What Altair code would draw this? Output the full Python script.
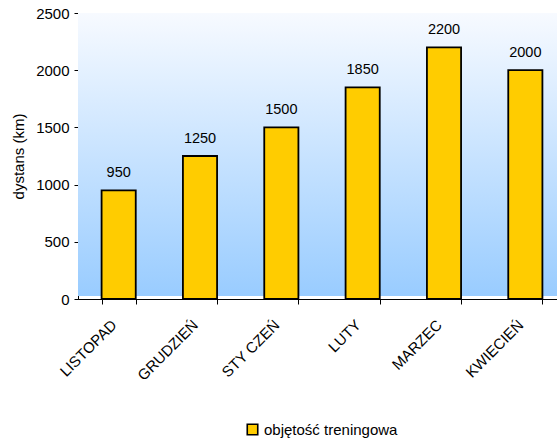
import altair as alt
import pandas as pd

months = ["LISTOPAD", "GRUDZIEŃ", "STY CZEŃ", "LUTY", "MARZEC", "KWIECIEŃ"]
values = [950, 1250, 1500, 1850, 2200, 2000]
series_name = "objętość treningowa"
y_ticks = [0, 500, 1000, 1500, 2000, 2500]

df = pd.DataFrame({"month": months, "value": values, "series": [series_name] * len(months)})

FONT = "Liberation Sans"
FS = 15
W = 479
H = 286

x_enc = alt.X(
    "month:N",
    sort=months,
    scale=alt.Scale(range=[0, 488], paddingInner=0.58, paddingOuter=0.29),
    axis=alt.Axis(
        title=None,
        labelAngle=-45,
        labelAlign="right",
        labelBaseline="middle",
        labelPadding=18,
        labelOffset=-5,
        labelFont=FONT,
        labelFontSize=FS,
        labelColor="black",
        tickBand="extent",
        tickSize=5,
        tickColor="black",
        domainColor="black",
        grid=False,
    ),
)
y_enc = alt.Y(
    "value:Q",
    scale=alt.Scale(domain=[0, 2500], nice=False),
    axis=alt.Axis(
        title="dystans (km)",
        values=y_ticks,
        format="d",
        titleFont=FONT,
        titleFontSize=FS,
        titleFontWeight="normal",
        titleColor="black",
        titleX=-52,
        titleBaseline="bottom",
        labelFont=FONT,
        labelFontSize=FS,
        labelColor="black",
        labelPadding=5,
        tickSize=4,
        tickColor="black",
        domainColor="black",
        gridColor="black",
        gridOpacity=1,
    ),
)

background = alt.Chart(df).mark_rect(
    color=alt.Gradient(
        gradient="linear",
        stops=[alt.GradientStop(color="#F7FAFF", offset=0), alt.GradientStop(color="#99CCFF", offset=1)],
        x1=0, x2=0, y1=0, y2=1,
    )
).encode(x=alt.value(0), x2=alt.value(W), y=alt.value(0), y2=alt.value(H - 3))

bars = alt.Chart(df).mark_bar(stroke="black", strokeWidth=1.8).encode(
    x=x_enc,
    y=y_enc,
    color=alt.Color(
        "series:N",
        scale=alt.Scale(domain=[series_name], range=["#FFCC00"]),
        legend=alt.Legend(
            title=None,
            orient="none",
            legendX=167,
            legendY=409,
            symbolType="square",
            symbolSize=110,
            symbolStrokeColor="black",
            symbolStrokeWidth=1.6,
            labelFont=FONT,
            labelFontSize=FS,
            labelColor="black",
            labelOffset=4,
        ),
    ),
)

labels = alt.Chart(df).mark_text(
    font=FONT, fontSize=14.5, color="black", baseline="alphabetic", dy=-13
).encode(x=alt.X("month:N", sort=months), y="value:Q", text="value:Q")

chart = (
    alt.layer(background, bars, labels)
    .properties(
        width=W,
        height=H,
        autosize=alt.AutoSizeParams(type="none"),
        padding={"left": 78, "top": 13, "right": 0, "bottom": 144},
    )
    .configure_view(stroke=None)
    .configure(background="white")
)

chart.save("out.html", embed_options={"renderer": "svg", "actions": False})
